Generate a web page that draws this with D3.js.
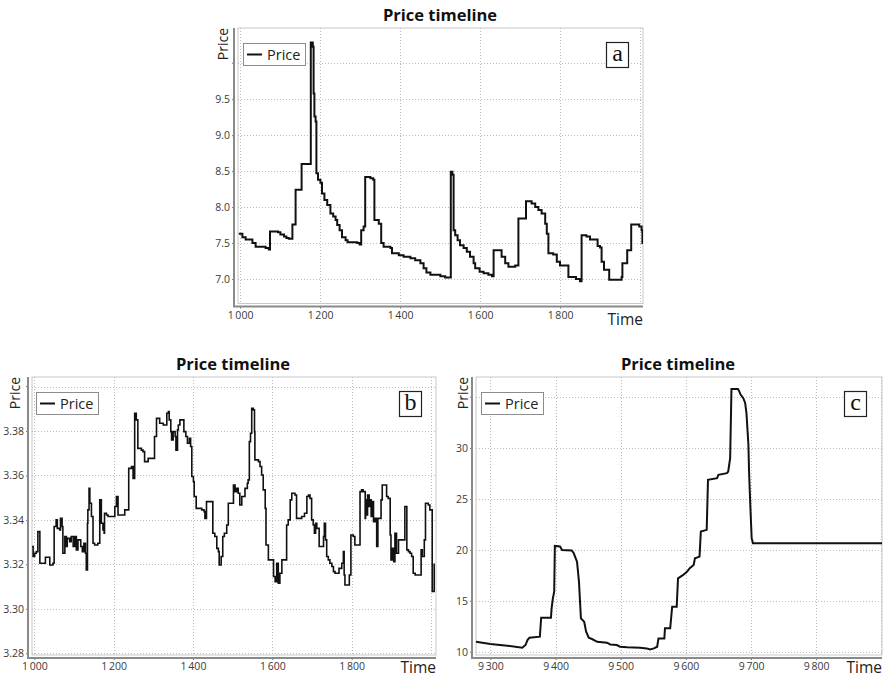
<!DOCTYPE html>
<html>
<head>
<meta charset="utf-8">
<script src="https://cdn.jsdelivr.net/npm/d3@7"></script>
<style>
  body { margin: 0; background: #fff; }
  svg { display: block; }
</style>
</head>
<body>
<svg id="chart" width="883" height="677"></svg>
<script>
// ---- Price series: [time, price] (price holds until the next entry) ----
const seriesA = [
  [997,7.63],[1006,7.58],[1014,7.55],[1031,7.50],[1039,7.45],[1064,7.43],[1072,7.41],[1075,7.66],
  [1095,7.65],[1101,7.62],[1110,7.59],[1116,7.57],[1122,7.56],[1131,7.76],[1139,8.24],[1154,8.60],
  [1177,10.29],[1182,10.23],[1184,9.58],[1186,9.26],[1189,9.19],[1191,8.47],[1195,8.38],[1201,8.34],
  [1205,8.19],[1211,8.10],[1218,8.03],[1226,7.91],[1233,7.87],[1239,7.82],[1243,7.75],[1249,7.68],
  [1255,7.58],[1264,7.54],[1269,7.51],[1293,7.50],[1299,7.48],[1303,7.68],[1309,7.73],[1313,8.42],
  [1326,8.40],[1333,8.38],[1336,7.82],[1347,7.77],[1353,7.50],[1359,7.45],[1376,7.43],[1380,7.36],
  [1397,7.33],[1409,7.31],[1426,7.29],[1438,7.26],[1451,7.22],[1459,7.15],[1466,7.09],[1476,7.06],
  [1501,7.04],[1513,7.02],[1527,8.49],[1531,8.45],[1534,7.68],[1538,7.61],[1544,7.54],[1550,7.47],
  [1559,7.43],[1567,7.38],[1575,7.31],[1584,7.22],[1588,7.15],[1599,7.10],[1609,7.08],[1621,7.06],
  [1630,7.04],[1634,7.40],[1654,7.31],[1663,7.22],[1671,7.17],[1688,7.19],[1696,7.84],[1715,8.08],
  [1729,8.05],[1738,8.00],[1746,7.96],[1754,7.91],[1763,7.77],[1767,7.63],[1771,7.36],[1783,7.34],
  [1792,7.24],[1800,7.19],[1821,7.03],[1840,7.00],[1850,6.97],[1854,7.61],[1866,7.59],[1875,7.55],
  [1894,7.46],[1900,7.44],[1904,7.24],[1910,7.13],[1923,6.99],[1954,7.03],[1956,7.22],[1968,7.40],
  [1978,7.76],[1998,7.73],[2004,7.68],[2006,7.50],[2008,7.50]
];

const seriesB = [
  [991,3.3280],[997,3.3235],[1001,3.3250],[1005,3.3257],[1009,3.3347],[1014,3.3205],[1028,3.3232],
  [1039,3.3197],[1047,3.3205],[1050,3.3370],[1055,3.3400],[1058,3.3362],[1064,3.3355],[1066,3.3407],
  [1070,3.3370],[1072,3.3250],[1077,3.3325],[1081,3.3280],[1083,3.3317],[1089,3.3302],[1093,3.3325],
  [1098,3.3280],[1102,3.3325],[1106,3.3265],[1110,3.3310],[1117,3.3280],[1121,3.3257],[1125,3.3295],
  [1129,3.3250],[1131,3.3175],[1134,3.3385],[1135,3.3445],[1138,3.3542],[1140,3.3475],[1144,3.3415],
  [1148,3.3295],[1152,3.3287],[1160,3.3295],[1165,3.3490],[1169,3.3385],[1173,3.3355],[1176,3.3340],
  [1177,3.3430],[1182,3.3422],[1186,3.3415],[1203,3.3460],[1207,3.3505],[1211,3.3422],[1228,3.3445],
  [1238,3.3632],[1245,3.3640],[1249,3.3587],[1253,3.3880],[1257,3.3850],[1261,3.3722],[1270,3.3714],
  [1274,3.3707],[1278,3.3662],[1287,3.3677],[1303,3.3775],[1308,3.3857],[1316,3.3835],[1325,3.3827],
  [1334,3.3880],[1338,3.3887],[1340,3.3850],[1344,3.3797],[1346,3.3760],[1350,3.3797],[1355,3.3775],
  [1357,3.3714],[1361,3.3805],[1363,3.3827],[1367,3.3850],[1377,3.3797],[1382,3.3775],[1386,3.3745],
  [1391,3.3767],[1394,3.3730],[1397,3.3595],[1401,3.3572],[1403,3.3505],[1408,3.3452],[1422,3.3445],
  [1428,3.3437],[1430,3.3407],[1434,3.3482],[1450,3.3340],[1455,3.3325],[1460,3.3272],[1464,3.3257],
  [1466,3.3197],[1471,3.3235],[1475,3.3325],[1479,3.3340],[1485,3.3377],[1489,3.3475],[1502,3.3557],
  [1506,3.3527],[1510,3.3542],[1514,3.3520],[1518,3.3467],[1523,3.3505],[1531,3.3542],[1537,3.3565],
  [1539,3.3580],[1542,3.3752],[1545,3.3790],[1548,3.3902],[1552,3.3895],[1555,3.3797],[1556,3.3670],
  [1565,3.3662],[1569,3.3640],[1573,3.3602],[1577,3.3535],[1582,3.3452],[1584,3.3287],[1590,3.3220],
  [1603,3.3145],[1607,3.3122],[1611,3.3205],[1615,3.3115],[1619,3.3160],[1624,3.3220],[1636,3.3377],
  [1640,3.3400],[1645,3.3490],[1649,3.3520],[1657,3.3512],[1661,3.3407],[1674,3.3415],[1681,3.3430],
  [1687,3.3505],[1691,3.3512],[1695,3.3497],[1699,3.3400],[1703,3.3377],[1706,3.3340],[1709,3.3385],
  [1712,3.3362],[1718,3.3280],[1729,3.3325],[1731,3.3385],[1734,3.3310],[1737,3.3235],[1741,3.3220],
  [1745,3.3205],[1750,3.3190],[1754,3.3167],[1758,3.3160],[1768,3.3182],[1775,3.3205],[1779,3.3257],
  [1781,3.3152],[1783,3.3107],[1794,3.3152],[1798,3.3332],[1804,3.3325],[1808,3.3287],[1821,3.3527],
  [1825,3.3535],[1829,3.3527],[1834,3.3407],[1835,3.3490],[1838,3.3422],[1840,3.3512],[1844,3.3460],
  [1846,3.3490],[1849,3.3415],[1852,3.3482],[1855,3.3392],[1859,3.3407],[1863,3.3280],[1866,3.3407],
  [1874,3.3490],[1877,3.3557],[1888,3.3505],[1892,3.3497],[1897,3.3332],[1899,3.3220],[1902,3.3272],
  [1906,3.3212],[1909,3.3340],[1913,3.3250],[1918,3.3310],[1934,3.3460],[1939,3.3265],[1943,3.3257],
  [1947,3.3250],[1951,3.3235],[1955,3.3160],[1960,3.3152],[1975,3.3265],[1978,3.3235],[1983,3.3310],
  [1986,3.3475],[1993,3.3467],[1997,3.3445],[2003,3.3078],[2008,3.3200],[2010,3.3200]
];

// corner points of the price path (straight segments between them)
const seriesC = [
  [9278,10.98],[9300,10.75],[9326,10.59],[9349,10.39],[9354,10.66],[9357,11.15],[9360,11.38],
  [9376,11.48],[9378,13.34],[9393,13.34],[9394,14.26],[9396,15.25],[9398,15.90],[9399,20.39],
  [9407,20.33],[9410,20.00],[9425,19.95],[9428,19.67],[9433,18.85],[9436,16.89],[9439,13.28],
  [9444,12.95],[9447,11.97],[9451,11.38],[9456,11.25],[9464,10.98],[9479,10.89],[9484,10.72],
  [9494,10.66],[9499,10.49],[9510,10.43],[9530,10.39],[9540,10.33],[9545,10.23],[9551,10.33],
  [9556,10.49],[9558,11.31],[9567,11.31],[9568,12.30],[9576,12.30],[9579,14.43],[9586,14.43],
  [9588,17.21],[9596,17.54],[9602,17.87],[9606,18.20],[9612,18.52],[9614,19.18],[9621,19.34],
  [9623,21.80],[9632,21.97],[9634,26.89],[9648,27.05],[9650,27.38],[9663,27.54],[9665,27.70],
  [9668,29.02],[9670,35.80],[9680,35.80],[9682,35.57],[9684,35.25],[9688,34.92],[9691,34.43],
  [9693,33.44],[9696,30.33],[9697,27.70],[9699,24.26],[9701,21.15],[9703,20.66],[9901,20.66]
];

// ---- Axis ticks ----
const xTicksA = [1000, 1200, 1400, 1600, 1800];
const xGridA  = [1000, 1200, 1400, 1600, 1800, 2000];
const yTicksA = [7.0, 7.5, 8.0, 8.5, 9.0, 9.5];
const yGridA  = [7.0, 7.5, 8.0, 8.5, 9.0, 9.5, 10.0];

const xTicksB = [1000, 1200, 1400, 1600, 1800];
const xGridB  = [1000, 1200, 1400, 1600, 1800, 2000];
const yTicksB = [3.28, 3.30, 3.32, 3.34, 3.36, 3.38];
const yGridB  = [3.28, 3.30, 3.32, 3.34, 3.36, 3.38, 3.40];

const xTicksC = [9300, 9400, 9500, 9600, 9700, 9800];
const xGridC  = [9300, 9400, 9500, 9600, 9700, 9800, 9900];
const yTicksC = [10, 15, 20, 25, 30];
const yGridC  = [10, 15, 20, 25, 30, 35];

const panelLetters = ["a", "b", "c"];

const spaced = d3.formatLocale({ decimal: ".", thousands: "\u2009", grouping: [3], currency: ["", ""] });
const fmtThousands = spaced.format(",d");

const svg = d3.select("#chart");
const SANS = "'Open Sans', 'Noto Sans', sans-serif";

function drawPanel(p) {
  const g = svg.append("g");
  const x = d3.scaleLinear().domain(p.xDomain).range([p.left, p.right]);
  const y = d3.scaleLinear().domain(p.yDomain).range([p.bottom, p.top]);

  // title
  g.append("text")
    .attr("x", p.titleX).attr("y", p.titleY)
    .attr("text-anchor", "middle")
    .attr("font-family", SANS).attr("font-weight", 700).attr("font-size", 16.5)
    .attr("fill", "#111")
    .text("Price timeline");

  // plot frame
  g.append("rect")
    .attr("x", p.left).attr("y", p.top)
    .attr("width", p.right - p.left).attr("height", p.bottom - p.top)
    .attr("fill", "#fff").attr("stroke", "#c8c8c8").attr("stroke-width", 1);

  // dotted grid
  g.append("g").selectAll("line.v").data(p.xGrid).join("line")
    .attr("x1", d => Math.round(x(d)) + 0.5).attr("x2", d => Math.round(x(d)) + 0.5)
    .attr("y1", p.top).attr("y2", p.bottom)
    .attr("stroke", "#bdbdbd").attr("stroke-width", 1).attr("stroke-dasharray", "1,2");
  g.append("g").selectAll("line.h").data(p.yGrid).join("line")
    .attr("x1", p.left).attr("x2", p.right)
    .attr("y1", d => Math.round(y(d)) + 0.5).attr("y2", d => Math.round(y(d)) + 0.5)
    .attr("stroke", "#bdbdbd").attr("stroke-width", 1).attr("stroke-dasharray", "1,2");

  // price line
  const clipId = "clip-" + p.letter;
  g.append("clipPath").attr("id", clipId)
    .append("rect").attr("x", p.left).attr("y", p.top)
    .attr("width", p.right - p.left).attr("height", p.bottom - p.top);
  const line = d3.line().x(d => x(d[0])).y(d => y(d[1])).curve(p.curve);
  g.append("path")
    .datum(p.series)
    .attr("clip-path", `url(#${clipId})`)
    .attr("d", line)
    .attr("fill", "none").attr("stroke", "#111")
    .attr("stroke-width", p.lineWidth).attr("stroke-linejoin", "miter");

  // y axis (offset to the left of the frame)
  const yAxisX = p.left - 4;
  const yAxis = d3.axisLeft(y).tickValues(p.yTicks).tickSize(2).tickPadding(2)
    .tickFormat(p.yFormat);
  const ya = g.append("g").attr("transform", `translate(${yAxisX},0)`).call(yAxis);
  ya.select(".domain").remove();
  ya.selectAll(".tick line").attr("stroke", "#777");
  ya.selectAll(".tick text").attr("font-family", SANS).attr("font-size", 10.5).attr("fill", "#3a3a3a");
  g.append("g").selectAll("line").data(p.yGrid.filter(v => !p.yTicks.includes(v))).join("line")
    .attr("x1", yAxisX - 2).attr("x2", yAxisX).attr("y1", d => y(d)).attr("y2", d => y(d))
    .attr("stroke", "#777");
  g.append("line")
    .attr("x1", yAxisX).attr("x2", yAxisX).attr("y1", p.top).attr("y2", p.bottom + 3)
    .attr("stroke", "#8a8a8a").attr("stroke-width", 2);

  // x axis (offset below the frame)
  const xAxisY = p.bottom + 3;
  const xAxis = d3.axisBottom(x).tickValues(p.xTicks).tickSize(2).tickPadding(3)
    .tickFormat(fmtThousands);
  const xa = g.append("g").attr("transform", `translate(0,${xAxisY})`).call(xAxis);
  xa.select(".domain").remove();
  xa.selectAll(".tick line").attr("stroke", "#777");
  xa.selectAll(".tick text").attr("font-family", SANS).attr("font-size", 10.5).attr("fill", "#3a3a3a");
  g.append("line")
    .attr("x1", p.left - 5).attr("x2", p.right).attr("y1", xAxisY).attr("y2", xAxisY)
    .attr("stroke", "#8a8a8a").attr("stroke-width", 2);

  // axis labels
  g.append("text")
    .attr("transform", `translate(${p.yLabelX},${p.top}) rotate(-90)`)
    .attr("text-anchor", "end")
    .attr("font-family", SANS).attr("font-size", 14).attr("fill", "#222")
    .text("Price");
  g.append("text")
    .attr("x", p.right).attr("y", p.timeY)
    .attr("text-anchor", "end")
    .attr("font-family", SANS).attr("font-size", 15.5).attr("fill", "#222")
    .text("Time");

  // legend
  const lg = g.append("g").attr("transform", `translate(${p.legendX},${p.legendY})`);
  lg.append("rect").attr("x", 0.5).attr("y", 0.5).attr("width", 62).attr("height", 22)
    .attr("fill", "#fff").attr("stroke", "#8c8c8c");
  lg.append("line").attr("x1", 4).attr("x2", 19).attr("y1", 11.5).attr("y2", 11.5)
    .attr("stroke", "#111").attr("stroke-width", 2);
  lg.append("text").attr("x", 24).attr("y", 16.5)
    .attr("font-family", SANS).attr("font-size", 14.5).attr("fill", "#222")
    .text("Price");

  // panel letter
  const lb = g.append("g").attr("transform", `translate(${p.letterX},${p.letterY})`);
  lb.append("rect").attr("x", 0.5).attr("y", 0.5).attr("width", 22).attr("height", 25)
    .attr("fill", "#fff").attr("stroke", "#222").attr("stroke-width", 1.2);
  lb.append("text").attr("x", 11.5).attr("y", 19)
    .attr("text-anchor", "middle")
    .attr("font-family", "'Liberation Serif', 'DejaVu Serif', serif").attr("font-size", 24)
    .attr("fill", "#111")
    .text(p.letter);
}

drawPanel({
  letter: panelLetters[0], series: seriesA, curve: d3.curveStepAfter, lineWidth: 2,
  left: 238, right: 643, top: 28, bottom: 303.5,
  xDomain: [995, 2007.5], yDomain: [6.66, 10.49],
  xTicks: xTicksA, xGrid: xGridA, yTicks: yTicksA, yGrid: yGridA,
  yFormat: d3.format(".1f"),
  titleX: 440, titleY: 20.5, yLabelX: 228, timeY: 325,
  legendX: 243, legendY: 43, letterX: 606, letterY: 42
});

drawPanel({
  letter: panelLetters[1], series: seriesB, curve: d3.curveStepAfter, lineWidth: 1.6,
  left: 32, right: 436, top: 377, bottom: 655,
  xDomain: [994.2, 2012.5], yDomain: [3.2792, 3.4043],
  xTicks: xTicksB, xGrid: xGridB, yTicks: yTicksB, yGrid: yGridB,
  yFormat: d3.format(".2f"),
  titleX: 233, titleY: 369.5, yLabelX: 20, timeY: 673,
  legendX: 36, legendY: 392, letterX: 399, letterY: 391
});

drawPanel({
  letter: panelLetters[2], series: seriesC, curve: d3.curveLinear, lineWidth: 2,
  left: 476, right: 882, top: 377, bottom: 655,
  xDomain: [9278, 9901], yDomain: [9.68, 36.98],
  xTicks: xTicksC, xGrid: xGridC, yTicks: yTicksC, yGrid: yGridC,
  yFormat: d3.format("d"),
  titleX: 678, titleY: 369.5, yLabelX: 468, timeY: 673,
  legendX: 481, legendY: 392, letterX: 844, letterY: 391
});
</script>
</body>
</html>
